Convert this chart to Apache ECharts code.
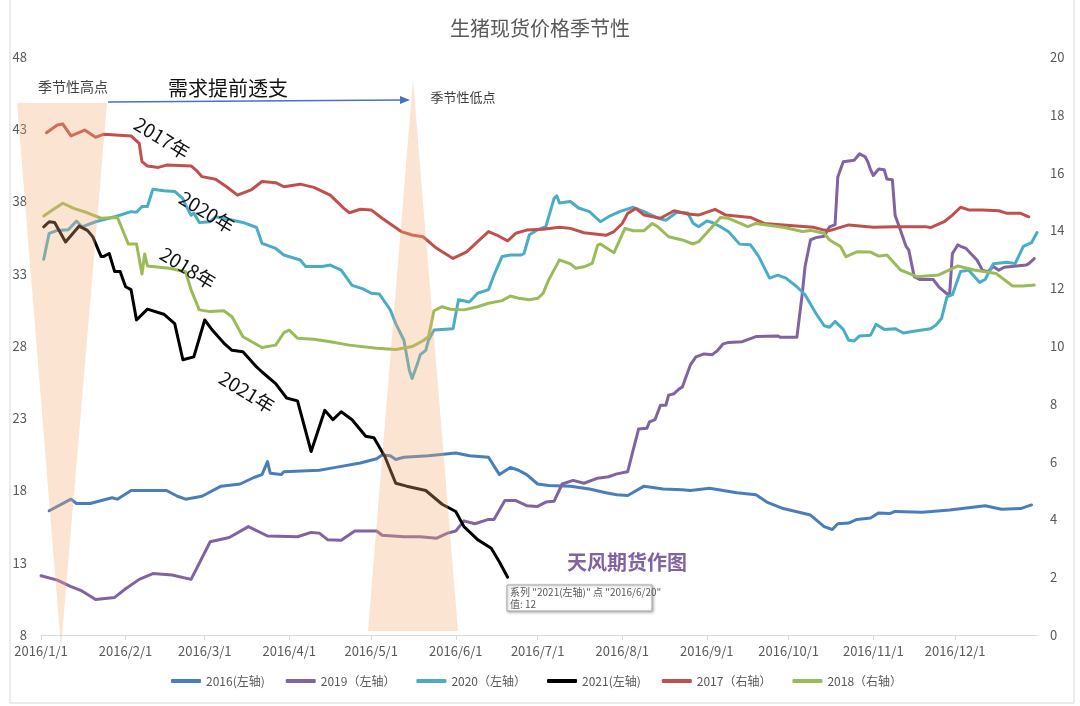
<!DOCTYPE html>
<html><head><meta charset="utf-8">
<script src="https://cdn.jsdelivr.net/npm/echarts@6/dist/echarts.min.js"></script>
<style>html,body{margin:0;padding:0;background:#fff}#c{width:1080px;height:706px}</style>
</head><body><div id="c"></div>
<script>
const TITLE = '生猪现货价格季节性';
const seriesNames = ['2016(左轴)', '2019（左轴）', '2020（左轴）', '2021(左轴)', '2017（右轴）', '2018（右轴）'];
const leftTicks = [8, 13, 18, 23, 28, 33, 38, 43, 48];
const rightTicks = [0, 2, 4, 6, 8, 10, 12, 14, 16, 18, 20];

const d2016 = [['1/4',16.6],['1/12',17.4],['1/14',17.1],['1/19',17.1],['1/27',17.5],['1/29',17.4],['2/3',18.0],['2/16',18.0],['2/20',17.6],['2/23',17.4],['2/29',17.6],['3/7',18.3],['3/14',18.45],['3/19',18.9],['3/22',19.1],['3/24',20.0],['3/25',19.2],['3/29',19.1],['3/30',19.3],['4/12',19.4],['4/18',19.6],['4/27',19.9],['5/3',20.2],['5/5',20.45],['5/8',20.4],['5/10',20.15],['5/13',20.3],['5/22',20.4],['6/1',20.6],['6/6',20.4],['6/13',20.3],['6/17',19.1],['6/21',19.6],['6/24',19.4],['6/27',19.1],['7/1',18.45],['7/5',18.35],['7/13',18.3],['7/20',18.1],['7/26',17.85],['7/30',17.7],['8/3',17.65],['8/9',18.3],['8/16',18.1],['8/23',18.05],['8/26',18.0],['9/2',18.15],['9/12',17.85],['9/19',17.7],['9/23',17.2],['9/29',16.75],['10/9',16.3],['10/14',15.5],['10/17',15.3],['10/19',15.7],['10/23',15.75],['10/26',16.0],['10/31',16.1],['11/3',16.45],['11/7',16.4],['11/9',16.55],['11/19',16.5],['11/29',16.65],['12/12',16.95],['12/18',16.7],['12/25',16.75],['12/29',17.0]];

const d2019 = [['1/1',12.1],['1/7',11.8],['1/12',11.35],['1/16',11.05],['1/21',10.45],['1/28',10.6],['2/1',11.2],['2/6',11.85],['2/11',12.25],['2/18',12.15],['2/25',11.85],['3/3',14.45],['3/10',14.75],['3/17',15.5],['3/24',14.85],['4/4',14.8],['4/9',15.1],['4/12',15.05],['4/15',14.6],['4/20',14.55],['4/25',15.2],['5/3',15.2],['5/5',14.9],['5/13',14.8],['5/19',14.8],['5/25',14.7],['5/29',15.05],['6/1',15.2],['6/4',15.9],['6/8',15.7],['6/13',16.0],['6/15',16.0],['6/19',17.3],['6/23',17.3],['6/27',16.95],['7/1',16.9],['7/4',17.2],['7/7',17.25],['7/10',18.45],['7/14',18.7],['7/18',18.5],['7/23',18.85],['7/27',18.95],['7/30',19.15],['8/3',19.3],['8/5',20.8],['8/7',22.25],['8/10',22.3],['8/11',22.75],['8/13',22.9],['8/15',23.9],['8/17',23.9],['8/18',24.6],['8/20',24.7],['8/22',25.05],['8/23',25.15],['8/26',26.7],['8/28',27.25],['8/31',27.45],['9/3',27.4],['9/5',27.7],['9/7',28.15],['9/9',28.25],['9/14',28.3],['9/19',28.65],['9/27',28.7],['9/28',28.6],['10/4',28.6],['10/6',31.65],['10/7',33.5],['10/9',35.35],['10/11',35.5],['10/14',35.6],['10/16',36.25],['10/18',36.4],['10/19',39.7],['10/21',40.75],['10/23',40.8],['10/25',40.85],['10/27',41.3],['10/29',41.1],['10/30',40.75],['10/31',40.2],['11/1',39.8],['11/3',40.25],['11/5',40.2],['11/6',39.55],['11/8',39.5],['11/9',37.05],['11/11',36.0],['11/13',34.9],['11/14',34.65],['11/16',32.8],['11/18',32.6],['11/23',32.6],['11/25',32.1],['11/28',31.6],['11/29',31.65],['11/30',34.4],['12/2',35.0],['12/3',34.9],['12/5',34.75],['12/9',33.95],['12/11',33.25],['12/13',33.15],['12/15',33.5],['12/17',33.25],['12/19',33.45],['12/27',33.6],['12/28',33.7],['12/30',34.05]];

const d2020 = [['1/2',34.0],['1/4',35.8],['1/7',36.0],['1/11',36.05],['1/14',36.65],['1/16',36.25],['1/21',36.6],['1/29',37.0],['2/3',37.3],['2/5',37.25],['2/7',37.65],['2/9',37.65],['2/11',38.85],['2/15',38.75],['2/19',38.7],['2/22',38.2],['2/23',37.75],['2/25',37.05],['2/26',37.2],['2/28',36.55],['3/3',36.6],['3/5',36.95],['3/10',36.75],['3/15',36.55],['3/20',36.2],['3/22',35.1],['3/27',34.75],['3/30',34.3],['4/5',33.95],['4/7',33.5],['4/13',33.5],['4/16',33.6],['4/20',33.25],['4/24',32.2],['4/28',31.95],['5/1',31.65],['5/4',31.6],['5/8',30.5],['5/10',29.55],['5/13',28.4],['5/15',26.3],['5/16',25.75],['5/18',26.8],['5/19',27.4],['5/21',27.7],['5/22',28.4],['5/24',29.1],['5/31',29.2],['6/2',31.2],['6/6',31.05],['6/9',31.65],['6/13',31.9],['6/15',32.9],['6/18',34.2],['6/21',34.3],['6/25',34.3],['6/26',34.4],['6/28',35.7],['7/1',36.05],['7/4',36.25],['7/7',38.2],['7/8',38.4],['7/9',37.9],['7/13',38.0],['7/16',37.55],['7/20',37.3],['7/24',36.6],['7/27',36.95],['7/31',37.3],['8/5',37.6],['8/9',37.3],['8/14',36.85],['8/17',36.7],['8/21',37.25],['8/25',37.2],['8/27',36.5],['8/29',36.25],['9/1',36.65],['9/3',36.55],['9/6',36.25],['9/9',35.9],['9/13',35.05],['9/17',35.0],['9/20',34.2],['9/24',32.7],['9/27',32.9],['9/30',32.7],['10/4',32.1],['10/7',31.55],['10/11',30.25],['10/14',29.4],['10/16',29.3],['10/18',29.7],['10/21',29.15],['10/23',28.4],['10/25',28.35],['10/27',28.7],['10/31',28.75],['11/2',29.5],['11/5',29.15],['11/9',29.2],['11/12',28.9],['11/17',29.05],['11/22',29.2],['11/24',29.45],['11/26',29.9],['11/28',31.4],['11/30',31.55],['12/3',33.15],['12/6',33.25],['12/10',32.4],['12/12',32.6],['12/15',33.7],['12/20',33.8],['12/23',33.7],['12/26',34.9],['12/29',35.15],['12/31',35.85]];

const d2021 = [['1/2',36.25],['1/4',36.6],['1/6',36.55],['1/10',35.2],['1/15',36.3],['1/18',36.0],['1/20',35.55],['1/23',34.2],['1/24',34.2],['1/26',34.4],['1/28',33.15],['1/30',33.15],['2/1',32.1],['2/3',31.9],['2/5',29.8],['2/9',30.55],['2/15',30.2],['2/19',29.55],['2/22',27.05],['2/26',27.25],['3/1',29.8],['3/4',29.05],['3/8',28.2],['3/11',27.7],['3/15',27.6],['3/20',26.55],['3/22',26.2],['3/27',25.4],['3/31',24.4],['4/4',24.2],['4/9',20.7],['4/14',23.55],['4/17',22.9],['4/20',23.45],['4/24',22.9],['4/29',21.75],['5/2',21.65],['5/6',20.35],['5/10',18.5],['5/14',18.3],['5/21',18.0],['5/27',17.05],['6/1',16.55],['6/4',15.5],['6/9',14.6],['6/14',14.0],['6/17',13.05],['6/20',12.0]];

const d2017 = [['1/3',17.38],['1/7',17.65],['1/9',17.68],['1/12',17.27],['1/17',17.47],['1/21',17.22],['1/24',17.33],['2/3',17.27],['2/6',17.01],['2/7',16.38],['2/9',16.23],['2/13',16.18],['2/16',16.26],['2/25',16.23],['2/27',16.07],['2/29',15.86],['3/5',15.77],['3/9',15.51],['3/13',15.22],['3/18',15.4],['3/22',15.69],['3/27',15.65],['3/30',15.51],['4/5',15.6],['4/10',15.49],['4/16',15.22],['4/21',14.76],['4/23',14.61],['4/27',14.73],['5/1',14.71],['5/5',14.42],['5/12',13.96],['5/16',13.84],['5/20',13.78],['5/25',13.38],['5/31',13.03],['6/5',13.26],['6/9',13.61],['6/13',13.96],['6/16',13.84],['6/20',13.64],['6/23',13.9],['6/27',14.01],['7/3',14.04],['7/9',14.11],['7/13',14.07],['7/18',13.92],['7/26',13.83],['7/29',13.96],['8/1',14.24],['8/3',14.59],['8/6',14.76],['8/9',14.53],['8/15',14.42],['8/20',14.68],['8/25',14.57],['8/29',14.53],['9/4',14.73],['9/8',14.53],['9/17',14.45],['9/22',14.24],['9/29',14.19],['10/10',14.11],['10/14',14.01],['10/16',13.99],['10/23',14.19],['11/1',14.11],['11/9',14.13],['11/20',14.13],['11/22',14.1],['11/27',14.3],['11/30',14.53],['12/3',14.8],['12/6',14.71],['12/11',14.71],['12/17',14.68],['12/20',14.59],['12/25',14.59],['12/28',14.47]];

const d2018 = [['1/2',14.5],['1/6',14.76],['1/9',14.94],['1/13',14.76],['1/18',14.61],['1/23',14.42],['1/29',14.45],['2/2',13.53],['2/5',13.53],['2/7',12.49],['2/8',13.18],['2/9',12.77],['2/17',12.69],['2/23',12.57],['2/25',11.94],['2/28',11.25],['3/3',11.19],['3/8',11.22],['3/11',11.01],['3/15',10.32],['3/22',9.95],['3/27',10.03],['3/30',10.46],['4/1',10.55],['4/4',10.27],['4/10',10.23],['4/16',10.15],['4/23',10.03],['5/3',9.92],['5/10',9.88],['5/16',9.98],['5/20',10.18],['5/22',10.32],['5/24',11.22],['5/27',11.36],['5/30',11.27],['6/4',11.25],['6/9',11.36],['6/13',11.48],['6/18',11.57],['6/21',11.73],['6/24',11.65],['6/28',11.6],['7/1',11.65],['7/3',11.82],['7/5',12.28],['7/9',12.98],['7/13',12.84],['7/15',12.69],['7/18',12.74],['7/21',12.86],['7/23',13.49],['7/24',13.53],['7/29',13.23],['8/2',14.07],['8/5',13.99],['8/9',13.99],['8/12',14.24],['8/14',14.13],['8/18',13.78],['8/23',13.67],['8/27',13.53],['8/29',13.61],['9/3',14.13],['9/6',14.45],['9/9',14.42],['9/16',14.13],['9/19',14.24],['9/29',14.11],['10/6',13.96],['10/9',14.0],['10/14',13.9],['10/16',13.67],['10/20',13.44],['10/22',13.09],['10/26',13.26],['10/31',13.25],['11/3',13.11],['11/6',13.15],['11/11',12.63],['11/17',12.4],['11/25',12.46],['12/2',12.77],['12/8',12.63],['12/16',12.51],['12/22',12.08],['12/26',12.08],['12/30',12.11]];

const seriesData = [d2016, d2019, d2020, d2021, d2017, d2018];
const seriesAxis = [0, 0, 0, 0, 1, 1];
const colors = ['#4a7ebb', '#8064a2', '#4bacc6', '#000000', '#c0504d', '#9bbb59'];

const FONT = '"Noto Sans CJK SC", "Microsoft YaHei", sans-serif';
const toDate = md => '2016-' + md.replace('/', '-');

const chart = echarts.init(document.getElementById('c'), null, {renderer: 'canvas'});
const peach = 'rgba(245,170,115,0.32)';

chart.setOption({
  animation: false,
  backgroundColor: '#fff',
  textStyle: {fontFamily: FONT},
  title: {text: TITLE, left: 'center', top: 13, textStyle: {fontSize: 20, fontWeight: 'normal', color: '#595959', fontFamily: FONT}},
  legend: {
    data: seriesNames, bottom: 14, left: 166, itemGap: 21, itemWidth: 30, itemHeight: 4, icon: 'roundRect',
    textStyle: {fontSize: 12, color: '#595959', fontFamily: FONT}
  },
  grid: {left: 41, right: 43, top: 57, bottom: 71, containLabel: false},
  xAxis: {
    type: 'time', min: '2016-01-01', max: '2016-12-31', splitNumber: 12,
    axisLine: {lineStyle: {color: '#d9d9d9', width: 1}},
    axisTick: {show: true, length: 5, lineStyle: {color: '#d9d9d9'}},
    axisLabel: {formatter: '{yyyy}/{M}/{d}', color: '#595959', fontSize: 13, margin: 10, showMaxLabel: false, fontFamily: FONT},
    splitLine: {show: false}
  },
  yAxis: [
    {type: 'value', min: leftTicks[0], max: leftTicks[leftTicks.length - 1], interval: leftTicks[1] - leftTicks[0],
     axisLine: {show: false}, axisTick: {show: false}, splitLine: {show: false},
     axisLabel: {color: '#595959', fontSize: 13, margin: 14, fontFamily: FONT}},
    {type: 'value', min: rightTicks[0], max: rightTicks[rightTicks.length - 1], interval: rightTicks[1] - rightTicks[0],
     axisLine: {show: false}, axisTick: {show: false}, splitLine: {show: false},
     axisLabel: {color: '#595959', fontSize: 13, margin: 13, fontFamily: FONT}}
  ],
  series: seriesNames.map((name, i) => ({
    name, type: 'line', yAxisIndex: seriesAxis[i], symbol: 'none', smooth: false,
    color: colors[i],
    lineStyle: {width: 3, color: colors[i], join: 'round', cap: 'round'},
    data: seriesData[i].map(p => [toDate(p[0]), p[1]]),
    z: i === 3 ? 3 : 2
  })),
  graphic: [
    {type: 'rect', shape: {x: 10, y: -5, width: 1064, height: 708}, style: {fill: 'none', stroke: '#d9d9d9', lineWidth: 1}, z: 1, silent: true},
    {type: 'polygon', shape: {points: [[17, 103], [107, 103], [61, 648]]}, style: {fill: peach}, z: 50, silent: true},
    {type: 'polygon', shape: {points: [[413, 79], [458, 631], [368, 631]]}, style: {fill: peach}, z: 50, silent: true},
    {type: 'text', x: 73, y: 87, style: {text: '季节性高点', fontSize: 14, fill: '#404040', align: 'center', verticalAlign: 'middle', fontFamily: FONT}, z: 60},
    {type: 'text', x: 228, y: 88, style: {text: '需求提前透支', fontSize: 20, fill: '#111', align: 'center', verticalAlign: 'middle', fontFamily: FONT}, z: 60},
    {type: 'text', x: 463, y: 97, style: {text: '季节性低点', fontSize: 13, fill: '#404040', align: 'center', verticalAlign: 'middle', fontFamily: FONT}, z: 60},
    {type: 'line', shape: {x1: 108, y1: 102, x2: 402, y2: 100}, style: {stroke: '#4472c4', lineWidth: 1.3}, z: 60},
    {type: 'polygon', shape: {points: [[400, 96], [410, 100], [400, 104]]}, style: {fill: '#4472c4'}, z: 60},
    {type: 'text', x: 162, y: 138, rotation: -0.55, style: {text: '2017年', fontSize: 19, fill: '#111', align: 'center', verticalAlign: 'middle', fontFamily: FONT}, z: 60},
    {type: 'text', x: 207, y: 212, rotation: -0.55, style: {text: '2020年', fontSize: 19, fill: '#111', align: 'center', verticalAlign: 'middle', fontFamily: FONT}, z: 60},
    {type: 'text', x: 188, y: 268, rotation: -0.55, style: {text: '2018年', fontSize: 19, fill: '#111', align: 'center', verticalAlign: 'middle', fontFamily: FONT}, z: 60},
    {type: 'text', x: 247, y: 392, rotation: -0.55, style: {text: '2021年', fontSize: 19, fill: '#111', align: 'center', verticalAlign: 'middle', fontFamily: FONT}, z: 60},
    {type: 'text', x: 627, y: 562, style: {text: '天风期货作图', fontSize: 20, fontWeight: 'bold', fill: '#8064a2', align: 'center', verticalAlign: 'middle', fontFamily: FONT}, z: 60},
    {type: 'rect', shape: {x: 507, y: 585, width: 145, height: 26}, style: {fill: '#fff', stroke: '#a6a6a6', lineWidth: 1, shadowBlur: 3, shadowOffsetX: 1, shadowOffsetY: 1, shadowColor: 'rgba(0,0,0,0.3)'}, z: 60},
    {type: 'text', x: 510, y: 592, style: {text: '系列 "2021(左轴)" 点 "2016/6/20"', fontSize: 10, fill: '#595959', align: 'left', verticalAlign: 'middle', fontFamily: FONT}, z: 61},
    {type: 'text', x: 510, y: 604, style: {text: '值: 12', fontSize: 10, fill: '#595959', align: 'left', verticalAlign: 'middle', fontFamily: FONT}, z: 61}
  ]
});
</script></body></html>
